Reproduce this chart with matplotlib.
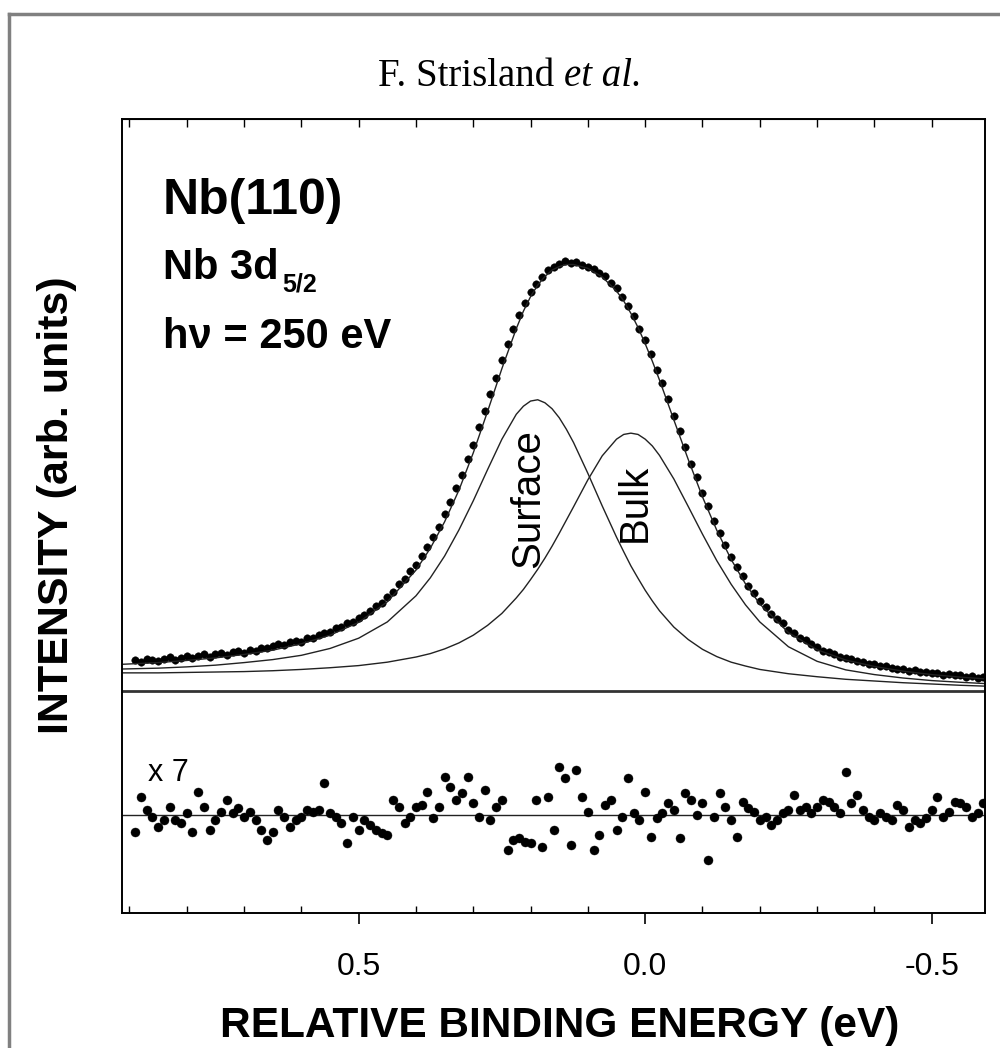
import matplotlib.pyplot as plt
import numpy as np
from matplotlib.lines import Line2D
from matplotlib.ticker import MultipleLocator

plt.rcParams['font.family'] = 'Liberation Sans'

# Nb 3d5/2 core level from Nb(110), hv = 250 eV, intensity in arb. units
energy = np.round(0.89 - 0.01 * np.arange(150), 2)
intensity = [
    7.2, 6.8, 7.4, 7.1, 6.9, 7.5, 7.8, 7.3, 7.6, 8.1,
    7.6, 8.2, 8.6, 8.0, 8.5, 8.9, 8.4, 9.0, 9.3, 8.9,
    9.6, 9.4, 10.1, 9.9, 10.4, 10.9, 10.6, 11.3, 11.7, 11.5,
    12.4, 12.3, 13.1, 13.5, 13.7, 14.6, 14.9, 15.8, 16.1, 17.0,
    17.8, 18.6, 19.9, 20.5, 21.9, 23.2, 24.9, 26.1, 28.0, 29.4,
    31.6, 33.5, 36.0, 38.3, 41.2, 44.0, 47.3, 50.4, 54.1, 57.5,
    61.6, 65.3, 69.4, 73.2, 77.3, 81.0, 84.6, 87.9, 90.6, 93.2,
    95.1, 96.6, 98.3, 98.9, 99.8, 100.4, 99.9, 100.2, 99.5, 99.1,
    98.6, 97.5, 96.8, 95.2, 94.0, 92.1, 89.8, 87.6, 84.5, 81.9,
    78.6, 75.0, 71.8, 68.1, 64.2, 60.8, 57.0, 53.1, 49.9, 46.2,
    43.1, 39.6, 36.9, 34.1, 31.2, 29.0, 26.9, 24.5, 22.8, 20.9,
    19.6, 18.0, 16.9, 15.8, 14.1, 13.5, 12.3, 11.8, 10.9, 10.2,
    9.4, 9.1, 8.7, 8.0, 7.6, 7.4, 6.9, 6.8, 6.3, 6.2,
    5.7, 5.8, 5.3, 5.2, 5.1, 4.7, 4.8, 4.4, 4.5, 4.1,
    4.2, 3.8, 4.0, 3.6, 3.7, 3.3, 3.5, 3.1, 3.3, 2.9,
]
# fit residual (data - fit), same energies, shown magnified x7
residual = [
    -0.56, 0.61, 0.17, -0.06, -0.39, -0.17, 0.28, -0.17, -0.28, 0.06,
    -0.56, 0.78, 0.28, -0.50, -0.17, 0.11, 0.50, 0.06, 0.22, -0.06,
    0.11, -0.17, -0.50, -0.83, -0.56, 0.17, -0.06, -0.39, -0.17, -0.06,
    0.17, 0.11, 0.17, 1.06, 0.06, -0.06, -0.28, -0.94, -0.06, -0.50,
    -0.17, -0.33, -0.50, -0.61, -0.67, 0.50, 0.28, -0.28, -0.06, 0.28,
    0.33, 0.78, -0.11, 0.28, 1.28, 0.94, 0.50, 0.72, 1.28, 0.39,
    -0.06, 0.83, -0.17, 0.28, 0.50, -1.17, -0.83, -0.78, -0.89, -0.94,
    0.50, -1.06, 0.61, -0.50, 1.61, 1.22, -1.00, 1.50, 0.61, 0.11,
    -1.17, -0.67, 0.33, 0.50, -0.50, -0.06, 1.22, 0.06, -0.17, 0.78,
    -0.72, -0.11, 0.06, 0.39, 0.17, -0.78, 0.72, 0.50, 0.00, 0.39,
    -1.50, -0.06, 0.72, 0.28, -0.17, -0.72, 0.44, 0.22, 0.11, -0.17,
    -0.06, -0.33, -0.17, 0.06, 0.17, 0.67, 0.17, 0.28, 0.06, 0.28,
    0.50, 0.44, 0.28, 0.06, 1.44, 0.39, 0.67, 0.17, -0.06, -0.17,
    0.06, -0.06, -0.17, 0.33, 0.17, -0.39, -0.17, -0.28, -0.11, 0.17,
    0.61, -0.06, 0.11, 0.44, 0.39, 0.28, -0.06, 0.06, 0.39, -0.06,
]

# fitted curves
fit_energy = [0.913, 0.85, 0.80, 0.75, 0.70, 0.65, 0.60, 0.55, 0.50, 0.45,
              0.40, 0.375, 0.35, 0.325, 0.30, 0.275, 0.25, 0.225, 0.2125, 0.20,
              0.1875, 0.175, 0.1625, 0.15, 0.1375, 0.125, 0.10, 0.075, 0.05, 0.0375,
              0.025, 0.0125, 0.0, -0.0125, -0.025, -0.05, -0.075, -0.10, -0.125, -0.15,
              -0.175, -0.20, -0.25, -0.30, -0.35, -0.40, -0.45, -0.50, -0.55, -0.593]
fit_total = [6.2, 6.6, 7.1, 7.7, 8.5, 9.5, 11.0, 13.0, 16.0, 20.8,
             28.2, 33.3, 39.5, 46.9, 55.6, 65.3, 75.3, 84.6, 88.7, 92.1,
             94.8, 96.8, 98.3, 99.1, 99.6, 99.6, 98.7, 96.7, 93.4, 91.1,
             88.2, 84.9, 81.1, 77.0, 72.6, 63.3, 54.1, 45.3, 37.5, 30.7,
             25.0, 20.3, 13.6, 9.6, 7.2, 5.7, 4.6, 3.8, 3.2, 2.8]
fit_surface = [5.1, 5.3, 5.6, 6.0, 6.6, 7.3, 8.3, 9.9, 12.3, 16.1,
               22.2, 26.4, 31.5, 37.6, 44.4, 51.7, 58.8, 64.6, 66.5, 67.7,
               68.0, 67.3, 65.9, 63.8, 61.1, 58.0, 50.8, 43.2, 35.9, 32.5,
               29.2, 26.3, 23.5, 21.0, 18.7, 14.9, 12.0, 9.7, 8.0, 6.7,
               5.8, 5.0, 4.0, 3.3, 2.7, 2.3, 1.9, 1.6, 1.3, 1.1]
fit_bulk = [4.2, 4.2, 4.3, 4.4, 4.5, 4.7, 5.0, 5.4, 5.9, 6.7,
            7.9, 8.7, 9.8, 11.2, 13.0, 15.3, 18.1, 21.7, 23.7, 26.0,
            28.4, 31.0, 33.8, 36.8, 39.9, 43.0, 49.3, 54.9, 58.8, 59.9,
            60.2, 59.9, 58.8, 57.2, 55.0, 49.5, 43.1, 36.6, 30.4, 24.9,
            20.1, 16.1, 10.3, 6.9, 4.9, 3.8, 3.0, 2.4, 2.0, 1.7]

residual_scale = 7
residual_offset = -29


def fpos(x, y):
    # pixel position in the 1000x1048 figure -> figure fraction
    return x / 1000, 1 - y / 1048


fig = plt.figure(figsize=(10, 10.48), dpi=100)
ax = fig.add_axes([0.122, 0.1288, 0.863, 0.7577])

ax.plot(energy, intensity, 'o', ms=5.4, color='k', mec='k', mew=0.3)
ax.plot(fit_energy, fit_total, color='#222222', lw=1.0)
ax.plot(fit_energy, fit_surface, color='#222222', lw=1.0)
ax.plot(fit_energy, fit_bulk, color='#222222', lw=1.0)
ax.axhline(0, color='#333333', lw=2.0)

ax.axhline(residual_offset, color='#222222', lw=1.0)
ax.plot(energy, residual_offset + residual_scale * np.array(residual), 'o',
        ms=6.5, color='k', mec='k', mew=0.3)

ax.set_xlim(0.913, -0.593)
ax.set_ylim(-51.9, 133.6)
ax.set_yticks([])
ax.set_xticks([0.5, 0.0, -0.5])
ax.set_xticklabels(['0.5', '0.0', '-0.5'])
ax.xaxis.set_minor_locator(MultipleLocator(0.1))
ax.tick_params(axis='x', which='major', direction='out', length=8, width=1.2,
               labelsize=23, pad=20)
ax.tick_params(axis='x', which='minor', direction='in', length=5, width=1.0)
for s in ax.spines.values():
    s.set_linewidth(1.4)

top = ax.secondary_xaxis('top')
top.xaxis.set_major_locator(MultipleLocator(0.1))
top.tick_params(direction='in', length=6, width=1.0, labelsize=0)
top.set_xticklabels([])

# component labels
ax.text(0.204, 45, 'Surface', rotation=90, fontsize=29, ha='center', va='center')
ax.text(0.019, 44, 'Bulk', rotation=90, fontsize=29, ha='center', va='center')

fig.text(*fpos(163, 214), 'Nb(110)', fontsize=36, fontweight='bold', va='baseline')
fig.text(*fpos(163, 279), 'Nb 3d', fontsize=30, fontweight='bold', va='baseline')
fig.text(*fpos(282, 292), '5/2', fontsize=18, fontweight='bold', va='baseline')
fig.text(*fpos(163, 348), 'h\u03bd = 250 eV', fontsize=30, fontweight='bold',
         va='baseline')
fig.text(*fpos(148, 781), 'x 7', fontsize=22, va='baseline')

fig.text(*fpos(560, 1037), 'RELATIVE BINDING ENERGY (eV)', fontsize=30.5,
         fontweight='bold', ha='center', va='baseline')
fig.text(*fpos(57, 505), 'INTENSITY (arb. units)', fontsize=31, fontweight='bold',
         rotation=90, ha='center', va='center')

# running head of the journal page
fig.text(*fpos(564, 86), 'F. Strisland ', fontsize=28, family='Liberation Serif',
         ha='right', va='baseline')
fig.text(*fpos(564, 86), 'et al.', fontsize=28, family='Liberation Serif',
         style='italic', ha='left', va='baseline')

# page edge of the scan
fig.add_artist(Line2D([0.009, 1.0], [1 - 14 / 1048] * 2, transform=fig.transFigure,
                      color='0.5', lw=2.5))
fig.add_artist(Line2D([0.009, 0.009], [0.0, 1 - 14 / 1048], transform=fig.transFigure,
                      color='0.5', lw=2.5))

fig.savefig('out.png', dpi=100, facecolor='white')
